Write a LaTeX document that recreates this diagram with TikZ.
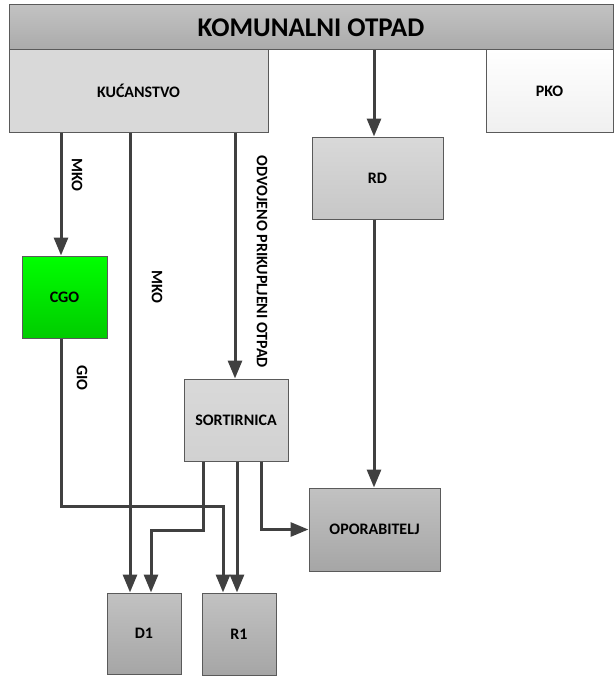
\documentclass[tikz,border=0pt]{standalone}
\usepackage{fontspec}
\setmainfont{Carlito}
\usetikzlibrary{arrows.meta}
\definecolor{linegray}{HTML}{404040}
\definecolor{boxline}{HTML}{5A5A5A}

\begin{document}
\begin{tikzpicture}[x=1pt,y=-1pt]
   \tikzset{box/.style 2 args={draw=boxline, line width=1pt, top color=#1, bottom color=#2, inner sep=0pt, font=\bfseries\fontsize{16}{18}\selectfont}};
   \tikzset{flow/.style={draw=linegray, line width=3pt, -{Triangle[width=14pt,length=18pt]}}};
   \tikzset{lbl/.style={rotate=-90, inner sep=0pt, font=\bfseries\fontsize{16}{18}\selectfont}};
   \useasboundingbox (0,0) rectangle (613,677);
\node[box={black!24}{black!33}, minimum width=604pt, minimum height=45pt, font=\bfseries\fontsize{27}{30}\selectfont] (otpad) at (311,27.5) {KOMUNALNI OTPAD};
\node[box={black!15}{black!15}, minimum width=259pt, minimum height=82pt] (kuc) at (138.5,91) {KUĆANSTVO};
\node[box={white}{black!6}, minimum width=127pt, minimum height=82pt] (pko) at (549.5,91) {PKO};
\node[box={black!15}{black!22}, minimum width=131pt, minimum height=82pt] (rd) at (377.5,178) {RD};
\node[box={green!100}{green!80!black}, minimum width=85pt, minimum height=82pt] (cgo) at (64.5,297) {CGO};
\node[box={black!15}{black!18}, minimum width=104pt, minimum height=82pt] (sort) at (236,420) {SORTIRNICA};
\node[box={black!24}{black!35}, minimum width=131pt, minimum height=83pt] (opor) at (374.5,529.5) {OPORABITELJ};
\node[box={black!24}{black!35}, minimum width=74pt, minimum height=81pt] (d1) at (144,633.5) {D1};
\node[box={black!24}{black!35}, minimum width=74pt, minimum height=82pt] (r1) at (239,634) {R1};

\node[lbl] (mko1) at (77,175) {MKO};
\node[lbl] (mko2) at (157,287) {MKO};
\node[lbl] (odvojeno) at (262,262) {ODVOJENO PRIKUPLJENI OTPAD};
\node[lbl] (gio) at (82,378) {GIO};

\draw[flow] (374,0 |- otpad.south) -- (374,0 |- rd.north);
\draw[flow] (61,0 |- kuc.south) -- (61,0 |- cgo.north);
\draw[flow] (130,0 |- kuc.south) -- (130,0 |- d1.north);
\draw[flow] (235,0 |- kuc.south) -- (235,0 |- sort.north);
\draw[flow] (61,0 |- cgo.south) -- (61,506) -- (223,506) -- (223,0 |- r1.north);
\draw[flow] (203,0 |- sort.south) -- (203,530) -- (151,530) -- (151,0 |- d1.north);
\draw[flow] (237,0 |- sort.south) -- (237,0 |- r1.north);
\draw[flow] (261,0 |- sort.south) -- (261,0 |- opor.west) -- (opor.west);
\draw[flow] (374,0 |- rd.south) -- (374,0 |- opor.north);
   
\end{tikzpicture}
\end{document}
